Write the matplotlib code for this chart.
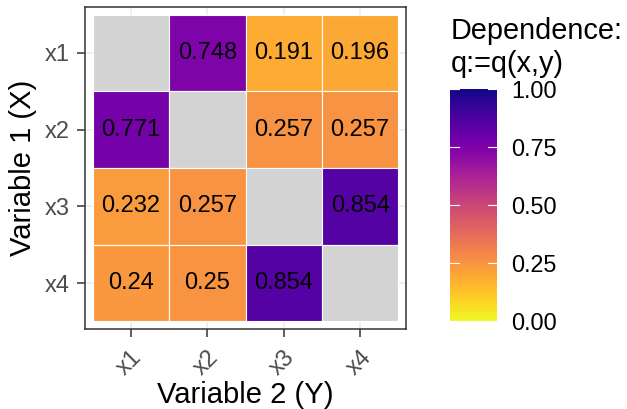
import numpy as np
import matplotlib
matplotlib.use("Agg")
import matplotlib.pyplot as plt
from matplotlib.colors import Normalize

plt.rcParams["font.family"] = ["Liberation Sans", "DejaVu Sans"]

row_vars = ["x1", "x2", "x3", "x4"]   # Variable 1 (X)
col_vars = ["x1", "x2", "x3", "x4"]   # Variable 2 (Y)
q_values = [
    [None, 0.748, 0.191, 0.196],
    [0.771, None, 0.257, 0.257],
    [0.232, 0.257, None, 0.854],
    [0.24, 0.25, 0.854, None],
]
legend_ticks = [0.0, 0.25, 0.5, 0.75, 1.0]
legend_labels = ["0.00", "0.25", "0.50", "0.75", "1.00"]

W, H = 627, 409
fig = plt.figure(figsize=(W / 100, H / 100), dpi=100)
ax = fig.add_axes([85 / W, (H - 329) / H, 321 / W, 322 / H])

cmap = plt.get_cmap("plasma_r")
norm = Normalize(0, 1)
n = len(row_vars)

# grid lines behind the tiles
for k in range(1, n + 1):
    ax.axvline(k, color="#EBEBEB", lw=1.1, zorder=0)
    ax.axhline(k, color="#EBEBEB", lw=1.1, zorder=0)

for i, rv in enumerate(row_vars):
    y = n - i
    for j, cv in enumerate(col_vars):
        x = j + 1
        v = q_values[i][j]
        face = "#D3D3D3" if v is None else cmap(norm(v))
        ax.add_patch(plt.Rectangle((x - 0.5, y - 0.5), 1, 1, facecolor=face,
                                   edgecolor="white", lw=0.8, zorder=1))
        if v is not None:
            ax.text(x, y, f"{v:g}", ha="center", va="center", fontsize=17,
                    color="black", zorder=2)

ax.set_xlim(0.4, n + 0.6)
ax.set_ylim(0.4, n + 0.6)
ax.set_xticks(range(1, n + 1))
ax.set_xticklabels(col_vars, rotation=45, ha="right", va="top",
                   rotation_mode="anchor")
ax.set_yticks(range(1, n + 1))
ax.set_yticklabels(row_vars[::-1])
ax.tick_params(axis="both", length=5.8, width=1.1, color="#333333",
               labelcolor="#4D4D4D", labelsize=17, pad=5.5)
ax.tick_params(axis="x", pad=7)
for s in ax.spines.values():
    s.set_color("#333333")
    s.set_linewidth(1.1)
ax.set_xlabel("Variable 2 (Y)", fontsize=21, color="black", labelpad=1)
ax.set_ylabel("Variable 1 (X)", fontsize=21, color="black", labelpad=5)

# colour bar legend
cax = fig.add_axes([450 / W, (H - 321) / H, 47 / W, 232 / H])
grad = np.linspace(0, 1, 256).reshape(-1, 1)
cax.imshow(grad, cmap=cmap, norm=norm, aspect="auto", origin="lower",
           extent=[0, 1, 0, 1])
cax.set_xlim(0, 1)
cax.set_ylim(0, 1)
for t in legend_ticks:
    cax.plot([0, 0.2], [t, t], color="white", lw=0.8)
    cax.plot([0.8, 1], [t, t], color="white", lw=0.8)
cax.set_xticks([])
cax.yaxis.tick_right()
cax.set_yticks(legend_ticks)
cax.set_yticklabels(legend_labels)
cax.tick_params(axis="y", length=0, labelsize=16.8, pad=10, labelcolor="black")
for s in cax.spines.values():
    s.set_visible(False)

fig.text(451 / W, 1 - 31 / H, "Dependence:", fontsize=20.8, ha="left",
         va="center")
fig.text(451 / W, 1 - 64 / H, "q:=q(x,y)", fontsize=20.8, ha="left",
         va="center")

fig.savefig("out.png", dpi=100)
